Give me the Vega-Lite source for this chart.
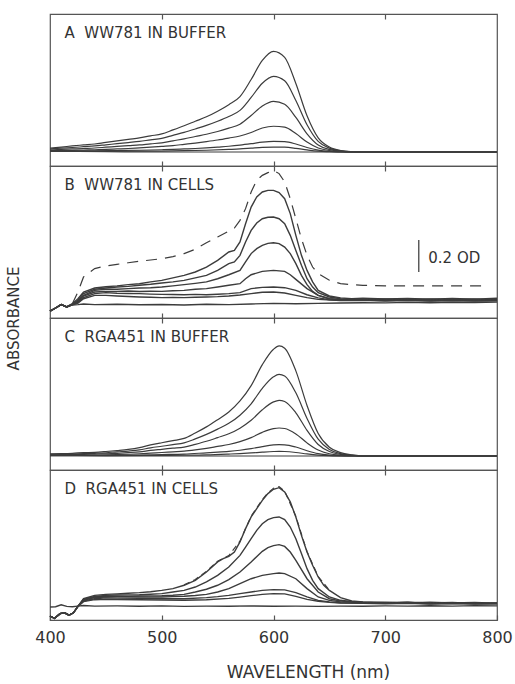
{
"$schema": "https://vega.github.io/schema/vega-lite/v6.json",
"background": "white",
"padding": {"left": 5, "top": 12, "right": 3, "bottom": 0},
"spacing": 0,
"bounds": "flush",
"config": {
 "view": {"stroke": "#555", "strokeWidth": 1.2},
 "font": "DejaVu Sans",
 "axis": {"domain": false, "grid": false, "tickColor": "#555", "tickWidth": 1.2, "labelFont": "DejaVu Sans", "titleFont": "DejaVu Sans", "labelColor": "#333", "titleColor": "#333", "titleFontWeight": "normal"}
},
"datasets": {
"A": [
{"s":1,"w":400,"a":0.025},{"s":1,"w":410,"a":0.031},{"s":1,"w":420,"a":0.038},{"s":1,"w":430,"a":0.044},{"s":1,"w":440,"a":0.05},{"s":1,"w":450,"a":0.06},{"s":1,"w":460,"a":0.069},{"s":1,"w":470,"a":0.079},{"s":1,"w":480,"a":0.088},{"s":1,"w":490,"a":0.101},{"s":1,"w":500,"a":0.113},{"s":1,"w":510,"a":0.138},{"s":1,"w":520,"a":0.164},{"s":1,"w":530,"a":0.192},{"s":1,"w":540,"a":0.22},{"s":1,"w":550,"a":0.255},{"s":1,"w":560,"a":0.296},{"s":1,"w":570,"a":0.346},{"s":1,"w":580,"a":0.453},{"s":1,"w":590,"a":0.572},{"s":1,"w":600,"a":0.629},{"s":1,"w":610,"a":0.591},{"s":1,"w":620,"a":0.428},{"s":1,"w":630,"a":0.226},{"s":1,"w":640,"a":0.088},{"s":1,"w":650,"a":0.031},{"s":1,"w":660,"a":0.009},{"s":1,"w":670,"a":0.002},{"s":1,"w":680,"a":0},{"s":1,"w":700,"a":0},{"s":1,"w":750,"a":0},{"s":1,"w":800,"a":0},
{"s":2,"w":400,"a":0.019},{"s":2,"w":410,"a":0.024},{"s":2,"w":420,"a":0.028},{"s":2,"w":430,"a":0.033},{"s":2,"w":440,"a":0.038},{"s":2,"w":450,"a":0.045},{"s":2,"w":460,"a":0.052},{"s":2,"w":470,"a":0.059},{"s":2,"w":480,"a":0.066},{"s":2,"w":490,"a":0.076},{"s":2,"w":500,"a":0.085},{"s":2,"w":510,"a":0.104},{"s":2,"w":520,"a":0.123},{"s":2,"w":530,"a":0.144},{"s":2,"w":540,"a":0.166},{"s":2,"w":550,"a":0.192},{"s":2,"w":560,"a":0.222},{"s":2,"w":570,"a":0.26},{"s":2,"w":580,"a":0.341},{"s":2,"w":590,"a":0.43},{"s":2,"w":600,"a":0.473},{"s":2,"w":610,"a":0.445},{"s":2,"w":620,"a":0.322},{"s":2,"w":630,"a":0.17},{"s":2,"w":640,"a":0.066},{"s":2,"w":650,"a":0.024},{"s":2,"w":660,"a":0.007},{"s":2,"w":670,"a":0.001},{"s":2,"w":680,"a":0},{"s":2,"w":700,"a":0},{"s":2,"w":750,"a":0},{"s":2,"w":800,"a":0},
{"s":3,"w":400,"a":0.013},{"s":3,"w":410,"a":0.016},{"s":3,"w":420,"a":0.019},{"s":3,"w":430,"a":0.022},{"s":3,"w":440,"a":0.025},{"s":3,"w":450,"a":0.03},{"s":3,"w":460,"a":0.035},{"s":3,"w":470,"a":0.04},{"s":3,"w":480,"a":0.044},{"s":3,"w":490,"a":0.051},{"s":3,"w":500,"a":0.057},{"s":3,"w":510,"a":0.07},{"s":3,"w":520,"a":0.082},{"s":3,"w":530,"a":0.097},{"s":3,"w":540,"a":0.111},{"s":3,"w":550,"a":0.128},{"s":3,"w":560,"a":0.149},{"s":3,"w":570,"a":0.174},{"s":3,"w":580,"a":0.228},{"s":3,"w":590,"a":0.288},{"s":3,"w":600,"a":0.317},{"s":3,"w":610,"a":0.298},{"s":3,"w":620,"a":0.216},{"s":3,"w":630,"a":0.114},{"s":3,"w":640,"a":0.044},{"s":3,"w":650,"a":0.016},{"s":3,"w":660,"a":0.005},{"s":3,"w":670,"a":0.001},{"s":3,"w":680,"a":0},{"s":3,"w":700,"a":0},{"s":3,"w":750,"a":0},{"s":3,"w":800,"a":0},
{"s":4,"w":400,"a":0.008},{"s":4,"w":410,"a":0.009},{"s":4,"w":420,"a":0.01},{"s":4,"w":430,"a":0.012},{"s":4,"w":440,"a":0.014},{"s":4,"w":450,"a":0.016},{"s":4,"w":460,"a":0.019},{"s":4,"w":470,"a":0.022},{"s":4,"w":480,"a":0.026},{"s":4,"w":490,"a":0.03},{"s":4,"w":500,"a":0.035},{"s":4,"w":510,"a":0.04},{"s":4,"w":520,"a":0.048},{"s":4,"w":530,"a":0.056},{"s":4,"w":540,"a":0.065},{"s":4,"w":550,"a":0.075},{"s":4,"w":560,"a":0.087},{"s":4,"w":570,"a":0.1},{"s":4,"w":580,"a":0.122},{"s":4,"w":590,"a":0.15},{"s":4,"w":600,"a":0.161},{"s":4,"w":610,"a":0.155},{"s":4,"w":620,"a":0.115},{"s":4,"w":630,"a":0.062},{"s":4,"w":640,"a":0.025},{"s":4,"w":650,"a":0.009},{"s":4,"w":660,"a":0.003},{"s":4,"w":670,"a":0},{"s":4,"w":700,"a":0},{"s":4,"w":750,"a":0},{"s":4,"w":800,"a":0},
{"s":5,"w":400,"a":0.006},{"s":5,"w":420,"a":0.006},{"s":5,"w":440,"a":0.007},{"s":5,"w":460,"a":0.009},{"s":5,"w":480,"a":0.011},{"s":5,"w":500,"a":0.014},{"s":5,"w":510,"a":0.016},{"s":5,"w":520,"a":0.019},{"s":5,"w":530,"a":0.022},{"s":5,"w":540,"a":0.026},{"s":5,"w":550,"a":0.031},{"s":5,"w":560,"a":0.036},{"s":5,"w":570,"a":0.043},{"s":5,"w":580,"a":0.052},{"s":5,"w":590,"a":0.062},{"s":5,"w":600,"a":0.067},{"s":5,"w":610,"a":0.065},{"s":5,"w":620,"a":0.05},{"s":5,"w":630,"a":0.028},{"s":5,"w":640,"a":0.012},{"s":5,"w":650,"a":0.004},{"s":5,"w":660,"a":0.001},{"s":5,"w":670,"a":0},{"s":5,"w":700,"a":0},{"s":5,"w":800,"a":0},
{"s":6,"w":400,"a":0.006},{"s":6,"w":440,"a":0.005},{"s":6,"w":480,"a":0.005},{"s":6,"w":500,"a":0.006},{"s":6,"w":520,"a":0.008},{"s":6,"w":540,"a":0.011},{"s":6,"w":560,"a":0.016},{"s":6,"w":570,"a":0.019},{"s":6,"w":580,"a":0.024},{"s":6,"w":590,"a":0.029},{"s":6,"w":600,"a":0.031},{"s":6,"w":610,"a":0.03},{"s":6,"w":620,"a":0.023},{"s":6,"w":630,"a":0.013},{"s":6,"w":640,"a":0.005},{"s":6,"w":650,"a":0.002},{"s":6,"w":660,"a":0},{"s":6,"w":700,"a":0},{"s":6,"w":800,"a":0},
{"s":7,"w":400,"a":0.004},{"s":7,"w":450,"a":0.002},{"s":7,"w":500,"a":0},{"s":7,"w":600,"a":0},{"s":7,"w":700,"a":0},{"s":7,"w":800,"a":0}
],
"B": [
{"s":1,"w":400,"a":-0.045},{"s":1,"w":405,"a":-0.025},{"s":1,"w":410,"a":-0.004},{"s":1,"w":415,"a":-0.018},{"s":1,"w":420,"a":0.002},{"s":1,"w":425,"a":0.033},{"s":1,"w":430,"a":0.075},{"s":1,"w":440,"a":0.1},{"s":1,"w":450,"a":0.108},{"s":1,"w":460,"a":0.113},{"s":1,"w":470,"a":0.121},{"s":1,"w":480,"a":0.127},{"s":1,"w":490,"a":0.138},{"s":1,"w":500,"a":0.148},{"s":1,"w":510,"a":0.163},{"s":1,"w":520,"a":0.179},{"s":1,"w":530,"a":0.2},{"s":1,"w":540,"a":0.231},{"s":1,"w":550,"a":0.273},{"s":1,"w":560,"a":0.325},{"s":1,"w":565,"a":0.335},{"s":1,"w":570,"a":0.388},{"s":1,"w":575,"a":0.502},{"s":1,"w":580,"a":0.606},{"s":1,"w":585,"a":0.669},{"s":1,"w":590,"a":0.7},{"s":1,"w":595,"a":0.71},{"s":1,"w":600,"a":0.71},{"s":1,"w":605,"a":0.696},{"s":1,"w":610,"a":0.658},{"s":1,"w":615,"a":0.565},{"s":1,"w":620,"a":0.429},{"s":1,"w":625,"a":0.304},{"s":1,"w":630,"a":0.21},{"s":1,"w":635,"a":0.138},{"s":1,"w":640,"a":0.085},{"s":1,"w":650,"a":0.05},{"s":1,"w":660,"a":0.038},{"s":1,"w":670,"a":0.033},{"s":1,"w":680,"a":0.036},{"s":1,"w":700,"a":0.031},{"s":1,"w":720,"a":0.035},{"s":1,"w":740,"a":0.03},{"s":1,"w":760,"a":0.034},{"s":1,"w":780,"a":0.03},{"s":1,"w":800,"a":0.036},
{"s":2,"w":400,"a":-0.045},{"s":2,"w":405,"a":-0.025},{"s":2,"w":410,"a":-0.004},{"s":2,"w":415,"a":-0.018},{"s":2,"w":420,"a":0.0},{"s":2,"w":425,"a":0.023},{"s":2,"w":430,"a":0.065},{"s":2,"w":440,"a":0.092},{"s":2,"w":450,"a":0.1},{"s":2,"w":460,"a":0.106},{"s":2,"w":470,"a":0.11},{"s":2,"w":480,"a":0.117},{"s":2,"w":490,"a":0.123},{"s":2,"w":500,"a":0.131},{"s":2,"w":510,"a":0.138},{"s":2,"w":520,"a":0.148},{"s":2,"w":530,"a":0.163},{"s":2,"w":540,"a":0.179},{"s":2,"w":550,"a":0.21},{"s":2,"w":560,"a":0.252},{"s":2,"w":565,"a":0.263},{"s":2,"w":570,"a":0.304},{"s":2,"w":575,"a":0.388},{"s":2,"w":580,"a":0.46},{"s":2,"w":585,"a":0.506},{"s":2,"w":590,"a":0.533},{"s":2,"w":595,"a":0.542},{"s":2,"w":600,"a":0.544},{"s":2,"w":605,"a":0.533},{"s":2,"w":610,"a":0.502},{"s":2,"w":615,"a":0.429},{"s":2,"w":620,"a":0.335},{"s":2,"w":625,"a":0.242},{"s":2,"w":630,"a":0.158},{"s":2,"w":635,"a":0.106},{"s":2,"w":640,"a":0.071},{"s":2,"w":650,"a":0.044},{"s":2,"w":660,"a":0.033},{"s":2,"w":670,"a":0.03},{"s":2,"w":680,"a":0.027},{"s":2,"w":700,"a":0.031},{"s":2,"w":720,"a":0.027},{"s":2,"w":740,"a":0.032},{"s":2,"w":760,"a":0.028},{"s":2,"w":780,"a":0.031},{"s":2,"w":800,"a":0.026},
{"s":3,"w":400,"a":-0.045},{"s":3,"w":405,"a":-0.025},{"s":3,"w":410,"a":-0.004},{"s":3,"w":415,"a":-0.018},{"s":3,"w":420,"a":-0.002},{"s":3,"w":425,"a":0.017},{"s":3,"w":430,"a":0.054},{"s":3,"w":440,"a":0.085},{"s":3,"w":450,"a":0.092},{"s":3,"w":460,"a":0.092},{"s":3,"w":470,"a":0.096},{"s":3,"w":480,"a":0.1},{"s":3,"w":490,"a":0.102},{"s":3,"w":500,"a":0.106},{"s":3,"w":510,"a":0.113},{"s":3,"w":520,"a":0.121},{"s":3,"w":530,"a":0.129},{"s":3,"w":540,"a":0.138},{"s":3,"w":550,"a":0.158},{"s":3,"w":560,"a":0.183},{"s":3,"w":570,"a":0.21},{"s":3,"w":575,"a":0.263},{"s":3,"w":580,"a":0.315},{"s":3,"w":585,"a":0.346},{"s":3,"w":590,"a":0.367},{"s":3,"w":595,"a":0.379},{"s":3,"w":600,"a":0.383},{"s":3,"w":605,"a":0.377},{"s":3,"w":610,"a":0.356},{"s":3,"w":615,"a":0.315},{"s":3,"w":620,"a":0.252},{"s":3,"w":625,"a":0.179},{"s":3,"w":630,"a":0.121},{"s":3,"w":635,"a":0.079},{"s":3,"w":640,"a":0.054},{"s":3,"w":650,"a":0.033},{"s":3,"w":660,"a":0.027},{"s":3,"w":680,"a":0.029},{"s":3,"w":700,"a":0.025},{"s":3,"w":720,"a":0.03},{"s":3,"w":740,"a":0.026},{"s":3,"w":760,"a":0.029},{"s":3,"w":780,"a":0.024},{"s":3,"w":800,"a":0.028},
{"s":4,"w":400,"a":-0.045},{"s":4,"w":405,"a":-0.025},{"s":4,"w":410,"a":-0.004},{"s":4,"w":415,"a":-0.018},{"s":4,"w":420,"a":-0.003},{"s":4,"w":425,"a":0.013},{"s":4,"w":430,"a":0.05},{"s":4,"w":440,"a":0.075},{"s":4,"w":450,"a":0.079},{"s":4,"w":460,"a":0.079},{"s":4,"w":470,"a":0.081},{"s":4,"w":480,"a":0.078},{"s":4,"w":490,"a":0.08},{"s":4,"w":500,"a":0.079},{"s":4,"w":510,"a":0.083},{"s":4,"w":520,"a":0.085},{"s":4,"w":530,"a":0.092},{"s":4,"w":540,"a":0.096},{"s":4,"w":550,"a":0.106},{"s":4,"w":560,"a":0.117},{"s":4,"w":570,"a":0.127},{"s":4,"w":575,"a":0.158},{"s":4,"w":580,"a":0.183},{"s":4,"w":590,"a":0.204},{"s":4,"w":600,"a":0.21},{"s":4,"w":610,"a":0.204},{"s":4,"w":615,"a":0.183},{"s":4,"w":620,"a":0.154},{"s":4,"w":630,"a":0.096},{"s":4,"w":640,"a":0.054},{"s":4,"w":650,"a":0.033},{"s":4,"w":660,"a":0.025},{"s":4,"w":680,"a":0.027},{"s":4,"w":700,"a":0.023},{"s":4,"w":720,"a":0.027},{"s":4,"w":740,"a":0.022},{"s":4,"w":760,"a":0.026},{"s":4,"w":780,"a":0.023},{"s":4,"w":800,"a":0.025},
{"s":5,"w":400,"a":-0.045},{"s":5,"w":405,"a":-0.025},{"s":5,"w":410,"a":-0.004},{"s":5,"w":415,"a":-0.018},{"s":5,"w":420,"a":-0.004},{"s":5,"w":425,"a":0.008},{"s":5,"w":430,"a":0.04},{"s":5,"w":440,"a":0.065},{"s":5,"w":450,"a":0.071},{"s":5,"w":460,"a":0.067},{"s":5,"w":470,"a":0.066},{"s":5,"w":480,"a":0.065},{"s":5,"w":490,"a":0.062},{"s":5,"w":500,"a":0.06},{"s":5,"w":510,"a":0.059},{"s":5,"w":520,"a":0.058},{"s":5,"w":530,"a":0.06},{"s":5,"w":540,"a":0.058},{"s":5,"w":550,"a":0.061},{"s":5,"w":560,"a":0.065},{"s":5,"w":570,"a":0.071},{"s":5,"w":580,"a":0.096},{"s":5,"w":590,"a":0.104},{"s":5,"w":600,"a":0.106},{"s":5,"w":610,"a":0.102},{"s":5,"w":620,"a":0.085},{"s":5,"w":630,"a":0.058},{"s":5,"w":640,"a":0.038},{"s":5,"w":650,"a":0.027},{"s":5,"w":660,"a":0.023},{"s":5,"w":680,"a":0.025},{"s":5,"w":700,"a":0.021},{"s":5,"w":720,"a":0.024},{"s":5,"w":740,"a":0.02},{"s":5,"w":760,"a":0.023},{"s":5,"w":780,"a":0.02},{"s":5,"w":800,"a":0.022},
{"s":6,"w":400,"a":-0.045},{"s":6,"w":405,"a":-0.025},{"s":6,"w":410,"a":-0.004},{"s":6,"w":415,"a":-0.018},{"s":6,"w":420,"a":-0.005},{"s":6,"w":425,"a":0.006},{"s":6,"w":430,"a":0.033},{"s":6,"w":440,"a":0.054},{"s":6,"w":450,"a":0.054},{"s":6,"w":460,"a":0.05},{"s":6,"w":470,"a":0.047},{"s":6,"w":480,"a":0.044},{"s":6,"w":490,"a":0.042},{"s":6,"w":500,"a":0.04},{"s":6,"w":510,"a":0.041},{"s":6,"w":520,"a":0.04},{"s":6,"w":530,"a":0.042},{"s":6,"w":540,"a":0.044},{"s":6,"w":550,"a":0.046},{"s":6,"w":560,"a":0.05},{"s":6,"w":570,"a":0.056},{"s":6,"w":580,"a":0.065},{"s":6,"w":590,"a":0.073},{"s":6,"w":600,"a":0.075},{"s":6,"w":610,"a":0.069},{"s":6,"w":620,"a":0.054},{"s":6,"w":630,"a":0.04},{"s":6,"w":640,"a":0.029},{"s":6,"w":660,"a":0.021},{"s":6,"w":680,"a":0.023},{"s":6,"w":700,"a":0.019},{"s":6,"w":720,"a":0.022},{"s":6,"w":740,"a":0.018},{"s":6,"w":760,"a":0.021},{"s":6,"w":780,"a":0.019},{"s":6,"w":800,"a":0.02},
{"s":7,"w":400,"a":-0.045},{"s":7,"w":405,"a":-0.025},{"s":7,"w":410,"a":-0.004},{"s":7,"w":415,"a":-0.018},{"s":7,"w":420,"a":-0.006},{"s":7,"w":425,"a":-0.004},{"s":7,"w":430,"a":0.0},{"s":7,"w":440,"a":-0.004},{"s":7,"w":460,"a":-0.002},{"s":7,"w":480,"a":-0.005},{"s":7,"w":500,"a":-0.003},{"s":7,"w":520,"a":-0.006},{"s":7,"w":540,"a":-0.002},{"s":7,"w":560,"a":-0.004},{"s":7,"w":580,"a":0.0},{"s":7,"w":600,"a":0.004},{"s":7,"w":620,"a":0.002},{"s":7,"w":640,"a":0.004},{"s":7,"w":660,"a":0.006},{"s":7,"w":680,"a":0.008},{"s":7,"w":700,"a":0.007},{"s":7,"w":720,"a":0.01},{"s":7,"w":740,"a":0.008},{"s":7,"w":760,"a":0.011},{"s":7,"w":780,"a":0.009},{"s":7,"w":800,"a":0.012},
{"s":9,"w":420,"a":0.002},{"s":9,"w":425,"a":0.075},{"s":9,"w":430,"a":0.169},{"s":9,"w":440,"a":0.221},{"s":9,"w":450,"a":0.238},{"s":9,"w":460,"a":0.248},{"s":9,"w":470,"a":0.258},{"s":9,"w":480,"a":0.267},{"s":9,"w":490,"a":0.275},{"s":9,"w":500,"a":0.283},{"s":9,"w":510,"a":0.296},{"s":9,"w":520,"a":0.315},{"s":9,"w":530,"a":0.342},{"s":9,"w":540,"a":0.383},{"s":9,"w":550,"a":0.419},{"s":9,"w":560,"a":0.456},{"s":9,"w":565,"a":0.475},{"s":9,"w":570,"a":0.523},{"s":9,"w":575,"a":0.596},{"s":9,"w":580,"a":0.7},{"s":9,"w":585,"a":0.773},{"s":9,"w":590,"a":0.804},{"s":9,"w":595,"a":0.821},{"s":9,"w":600,"a":0.835},{"s":9,"w":605,"a":0.815},{"s":9,"w":610,"a":0.763},{"s":9,"w":615,"a":0.658},{"s":9,"w":620,"a":0.533},{"s":9,"w":625,"a":0.408},{"s":9,"w":630,"a":0.304},{"s":9,"w":635,"a":0.231},{"s":9,"w":640,"a":0.19},{"s":9,"w":650,"a":0.148},{"s":9,"w":660,"a":0.127},{"s":9,"w":670,"a":0.121},{"s":9,"w":680,"a":0.117},{"s":9,"w":700,"a":0.113},{"s":9,"w":750,"a":0.113},{"s":9,"w":790,"a":0.113}
],
"C": [
{"s":1,"w":400,"a":0.014},{"s":1,"w":410,"a":0.015},{"s":1,"w":420,"a":0.017},{"s":1,"w":430,"a":0.021},{"s":1,"w":440,"a":0.023},{"s":1,"w":450,"a":0.028},{"s":1,"w":460,"a":0.034},{"s":1,"w":470,"a":0.041},{"s":1,"w":480,"a":0.052},{"s":1,"w":490,"a":0.069},{"s":1,"w":500,"a":0.083},{"s":1,"w":510,"a":0.096},{"s":1,"w":520,"a":0.11},{"s":1,"w":530,"a":0.144},{"s":1,"w":540,"a":0.182},{"s":1,"w":550,"a":0.227},{"s":1,"w":560,"a":0.275},{"s":1,"w":570,"a":0.344},{"s":1,"w":580,"a":0.44},{"s":1,"w":590,"a":0.571},{"s":1,"w":600,"a":0.667},{"s":1,"w":605,"a":0.688},{"s":1,"w":610,"a":0.674},{"s":1,"w":620,"a":0.532},{"s":1,"w":630,"a":0.316},{"s":1,"w":640,"a":0.141},{"s":1,"w":650,"a":0.055},{"s":1,"w":660,"a":0.021},{"s":1,"w":670,"a":0.007},{"s":1,"w":680,"a":0},{"s":1,"w":700,"a":0},{"s":1,"w":750,"a":0},{"s":1,"w":800,"a":0},
{"s":2,"w":400,"a":0.01},{"s":2,"w":410,"a":0.011},{"s":2,"w":420,"a":0.013},{"s":2,"w":430,"a":0.015},{"s":2,"w":440,"a":0.017},{"s":2,"w":450,"a":0.02},{"s":2,"w":460,"a":0.026},{"s":2,"w":470,"a":0.031},{"s":2,"w":480,"a":0.038},{"s":2,"w":490,"a":0.051},{"s":2,"w":500,"a":0.061},{"s":2,"w":510,"a":0.071},{"s":2,"w":520,"a":0.082},{"s":2,"w":530,"a":0.107},{"s":2,"w":540,"a":0.135},{"s":2,"w":550,"a":0.168},{"s":2,"w":560,"a":0.204},{"s":2,"w":570,"a":0.255},{"s":2,"w":580,"a":0.326},{"s":2,"w":590,"a":0.423},{"s":2,"w":600,"a":0.495},{"s":2,"w":605,"a":0.51},{"s":2,"w":610,"a":0.5},{"s":2,"w":620,"a":0.395},{"s":2,"w":630,"a":0.235},{"s":2,"w":640,"a":0.105},{"s":2,"w":650,"a":0.041},{"s":2,"w":660,"a":0.015},{"s":2,"w":670,"a":0.005},{"s":2,"w":680,"a":0},{"s":2,"w":700,"a":0},{"s":2,"w":750,"a":0},{"s":2,"w":800,"a":0},
{"s":3,"w":400,"a":0.007},{"s":3,"w":410,"a":0.008},{"s":3,"w":420,"a":0.009},{"s":3,"w":430,"a":0.01},{"s":3,"w":440,"a":0.012},{"s":3,"w":450,"a":0.014},{"s":3,"w":460,"a":0.017},{"s":3,"w":470,"a":0.021},{"s":3,"w":480,"a":0.026},{"s":3,"w":490,"a":0.035},{"s":3,"w":500,"a":0.042},{"s":3,"w":510,"a":0.049},{"s":3,"w":520,"a":0.056},{"s":3,"w":530,"a":0.073},{"s":3,"w":540,"a":0.092},{"s":3,"w":550,"a":0.115},{"s":3,"w":560,"a":0.139},{"s":3,"w":570,"a":0.174},{"s":3,"w":580,"a":0.223},{"s":3,"w":590,"a":0.289},{"s":3,"w":600,"a":0.338},{"s":3,"w":605,"a":0.348},{"s":3,"w":610,"a":0.341},{"s":3,"w":620,"a":0.27},{"s":3,"w":630,"a":0.16},{"s":3,"w":640,"a":0.072},{"s":3,"w":650,"a":0.028},{"s":3,"w":660,"a":0.01},{"s":3,"w":670,"a":0.003},{"s":3,"w":680,"a":0},{"s":3,"w":700,"a":0},{"s":3,"w":750,"a":0},{"s":3,"w":800,"a":0},
{"s":4,"w":400,"a":0.004},{"s":4,"w":420,"a":0.005},{"s":4,"w":440,"a":0.006},{"s":4,"w":460,"a":0.009},{"s":4,"w":470,"a":0.011},{"s":4,"w":480,"a":0.014},{"s":4,"w":490,"a":0.018},{"s":4,"w":500,"a":0.022},{"s":4,"w":510,"a":0.026},{"s":4,"w":520,"a":0.03},{"s":4,"w":530,"a":0.038},{"s":4,"w":540,"a":0.048},{"s":4,"w":550,"a":0.06},{"s":4,"w":560,"a":0.072},{"s":4,"w":570,"a":0.09},{"s":4,"w":580,"a":0.115},{"s":4,"w":590,"a":0.148},{"s":4,"w":600,"a":0.171},{"s":4,"w":605,"a":0.175},{"s":4,"w":610,"a":0.172},{"s":4,"w":620,"a":0.138},{"s":4,"w":630,"a":0.082},{"s":4,"w":640,"a":0.037},{"s":4,"w":650,"a":0.014},{"s":4,"w":660,"a":0.005},{"s":4,"w":670,"a":0.002},{"s":4,"w":680,"a":0},{"s":4,"w":700,"a":0},{"s":4,"w":800,"a":0},
{"s":5,"w":400,"a":0.003},{"s":5,"w":440,"a":0.003},{"s":5,"w":460,"a":0.004},{"s":5,"w":480,"a":0.006},{"s":5,"w":500,"a":0.009},{"s":5,"w":520,"a":0.012},{"s":5,"w":540,"a":0.02},{"s":5,"w":550,"a":0.024},{"s":5,"w":560,"a":0.029},{"s":5,"w":570,"a":0.036},{"s":5,"w":580,"a":0.046},{"s":5,"w":590,"a":0.059},{"s":5,"w":600,"a":0.069},{"s":5,"w":605,"a":0.071},{"s":5,"w":610,"a":0.07},{"s":5,"w":620,"a":0.056},{"s":5,"w":630,"a":0.033},{"s":5,"w":640,"a":0.015},{"s":5,"w":650,"a":0.006},{"s":5,"w":660,"a":0.002},{"s":5,"w":670,"a":0},{"s":5,"w":700,"a":0},{"s":5,"w":800,"a":0},
{"s":6,"w":400,"a":0.002},{"s":6,"w":450,"a":0.002},{"s":6,"w":500,"a":0.004},{"s":6,"w":520,"a":0.005},{"s":6,"w":540,"a":0.007},{"s":6,"w":560,"a":0.012},{"s":6,"w":570,"a":0.015},{"s":6,"w":580,"a":0.019},{"s":6,"w":590,"a":0.024},{"s":6,"w":600,"a":0.028},{"s":6,"w":605,"a":0.029},{"s":6,"w":610,"a":0.028},{"s":6,"w":620,"a":0.022},{"s":6,"w":630,"a":0.013},{"s":6,"w":640,"a":0.006},{"s":6,"w":650,"a":0.002},{"s":6,"w":660,"a":0},{"s":6,"w":700,"a":0},{"s":6,"w":800,"a":0},
{"s":7,"w":400,"a":0.002},{"s":7,"w":450,"a":0.001},{"s":7,"w":500,"a":0},{"s":7,"w":600,"a":0},{"s":7,"w":700,"a":0},{"s":7,"w":800,"a":0}
],
"D": [
{"s":1,"w":400,"a":-0.05},{"s":1,"w":404,"a":-0.065},{"s":1,"w":409,"a":-0.035},{"s":1,"w":413,"a":-0.03},{"s":1,"w":417,"a":-0.045},{"s":1,"w":421,"a":-0.03},{"s":1,"w":425,"a":0.01},{"s":1,"w":430,"a":0.058},{"s":1,"w":440,"a":0.079},{"s":1,"w":450,"a":0.085},{"s":1,"w":460,"a":0.088},{"s":1,"w":470,"a":0.092},{"s":1,"w":480,"a":0.096},{"s":1,"w":490,"a":0.102},{"s":1,"w":500,"a":0.11},{"s":1,"w":510,"a":0.121},{"s":1,"w":520,"a":0.142},{"s":1,"w":530,"a":0.173},{"s":1,"w":540,"a":0.225},{"s":1,"w":550,"a":0.288},{"s":1,"w":555,"a":0.308},{"s":1,"w":560,"a":0.323},{"s":1,"w":565,"a":0.35},{"s":1,"w":570,"a":0.413},{"s":1,"w":575,"a":0.496},{"s":1,"w":580,"a":0.569},{"s":1,"w":585,"a":0.621},{"s":1,"w":590,"a":0.673},{"s":1,"w":595,"a":0.715},{"s":1,"w":600,"a":0.742},{"s":1,"w":605,"a":0.752},{"s":1,"w":610,"a":0.725},{"s":1,"w":615,"a":0.663},{"s":1,"w":620,"a":0.569},{"s":1,"w":625,"a":0.454},{"s":1,"w":630,"a":0.35},{"s":1,"w":635,"a":0.267},{"s":1,"w":640,"a":0.194},{"s":1,"w":645,"a":0.142},{"s":1,"w":650,"a":0.11},{"s":1,"w":660,"a":0.065},{"s":1,"w":670,"a":0.044},{"s":1,"w":680,"a":0.038},{"s":1,"w":700,"a":0.033},{"s":1,"w":720,"a":0.036},{"s":1,"w":740,"a":0.031},{"s":1,"w":760,"a":0.034},{"s":1,"w":780,"a":0.029},{"s":1,"w":800,"a":0.027},
{"s":2,"w":400,"a":-0.05},{"s":2,"w":404,"a":-0.065},{"s":2,"w":409,"a":-0.035},{"s":2,"w":413,"a":-0.03},{"s":2,"w":417,"a":-0.045},{"s":2,"w":421,"a":-0.03},{"s":2,"w":425,"a":0.01},{"s":2,"w":430,"a":0.054},{"s":2,"w":440,"a":0.073},{"s":2,"w":450,"a":0.079},{"s":2,"w":460,"a":0.081},{"s":2,"w":470,"a":0.082},{"s":2,"w":480,"a":0.083},{"s":2,"w":490,"a":0.086},{"s":2,"w":500,"a":0.09},{"s":2,"w":510,"a":0.1},{"s":2,"w":520,"a":0.11},{"s":2,"w":530,"a":0.131},{"s":2,"w":540,"a":0.163},{"s":2,"w":550,"a":0.204},{"s":2,"w":560,"a":0.256},{"s":2,"w":570,"a":0.329},{"s":2,"w":575,"a":0.381},{"s":2,"w":580,"a":0.433},{"s":2,"w":585,"a":0.485},{"s":2,"w":590,"a":0.527},{"s":2,"w":595,"a":0.552},{"s":2,"w":600,"a":0.565},{"s":2,"w":605,"a":0.569},{"s":2,"w":610,"a":0.552},{"s":2,"w":615,"a":0.506},{"s":2,"w":620,"a":0.433},{"s":2,"w":625,"a":0.34},{"s":2,"w":630,"a":0.246},{"s":2,"w":635,"a":0.173},{"s":2,"w":640,"a":0.121},{"s":2,"w":650,"a":0.069},{"s":2,"w":660,"a":0.048},{"s":2,"w":670,"a":0.04},{"s":2,"w":680,"a":0.035},{"s":2,"w":700,"a":0.037},{"s":2,"w":720,"a":0.032},{"s":2,"w":740,"a":0.036},{"s":2,"w":760,"a":0.031},{"s":2,"w":780,"a":0.034},{"s":2,"w":800,"a":0.03},
{"s":3,"w":400,"a":-0.05},{"s":3,"w":404,"a":-0.065},{"s":3,"w":409,"a":-0.035},{"s":3,"w":413,"a":-0.03},{"s":3,"w":417,"a":-0.045},{"s":3,"w":421,"a":-0.03},{"s":3,"w":425,"a":0.01},{"s":3,"w":430,"a":0.052},{"s":3,"w":440,"a":0.069},{"s":3,"w":450,"a":0.073},{"s":3,"w":460,"a":0.074},{"s":3,"w":470,"a":0.073},{"s":3,"w":480,"a":0.075},{"s":3,"w":490,"a":0.076},{"s":3,"w":500,"a":0.077},{"s":3,"w":510,"a":0.08},{"s":3,"w":520,"a":0.085},{"s":3,"w":530,"a":0.1},{"s":3,"w":540,"a":0.117},{"s":3,"w":550,"a":0.142},{"s":3,"w":560,"a":0.177},{"s":3,"w":570,"a":0.225},{"s":3,"w":580,"a":0.288},{"s":3,"w":590,"a":0.354},{"s":3,"w":595,"a":0.377},{"s":3,"w":600,"a":0.39},{"s":3,"w":605,"a":0.396},{"s":3,"w":610,"a":0.385},{"s":3,"w":615,"a":0.35},{"s":3,"w":620,"a":0.298},{"s":3,"w":630,"a":0.183},{"s":3,"w":640,"a":0.1},{"s":3,"w":650,"a":0.058},{"s":3,"w":660,"a":0.044},{"s":3,"w":680,"a":0.035},{"s":3,"w":700,"a":0.032},{"s":3,"w":720,"a":0.035},{"s":3,"w":740,"a":0.03},{"s":3,"w":760,"a":0.033},{"s":3,"w":780,"a":0.029},{"s":3,"w":800,"a":0.031},
{"s":4,"w":400,"a":-0.05},{"s":4,"w":404,"a":-0.065},{"s":4,"w":409,"a":-0.035},{"s":4,"w":413,"a":-0.03},{"s":4,"w":417,"a":-0.045},{"s":4,"w":421,"a":-0.03},{"s":4,"w":425,"a":0.01},{"s":4,"w":430,"a":0.048},{"s":4,"w":440,"a":0.065},{"s":4,"w":450,"a":0.069},{"s":4,"w":460,"a":0.07},{"s":4,"w":480,"a":0.069},{"s":4,"w":500,"a":0.069},{"s":4,"w":510,"a":0.071},{"s":4,"w":520,"a":0.073},{"s":4,"w":530,"a":0.078},{"s":4,"w":540,"a":0.085},{"s":4,"w":550,"a":0.1},{"s":4,"w":560,"a":0.121},{"s":4,"w":570,"a":0.152},{"s":4,"w":580,"a":0.183},{"s":4,"w":590,"a":0.204},{"s":4,"w":600,"a":0.215},{"s":4,"w":605,"a":0.219},{"s":4,"w":610,"a":0.215},{"s":4,"w":620,"a":0.183},{"s":4,"w":630,"a":0.121},{"s":4,"w":640,"a":0.069},{"s":4,"w":650,"a":0.048},{"s":4,"w":660,"a":0.038},{"s":4,"w":680,"a":0.034},{"s":4,"w":700,"a":0.031},{"s":4,"w":720,"a":0.034},{"s":4,"w":740,"a":0.029},{"s":4,"w":760,"a":0.032},{"s":4,"w":780,"a":0.028},{"s":4,"w":800,"a":0.03},
{"s":5,"w":400,"a":-0.05},{"s":5,"w":404,"a":-0.065},{"s":5,"w":409,"a":-0.035},{"s":5,"w":413,"a":-0.03},{"s":5,"w":417,"a":-0.045},{"s":5,"w":421,"a":-0.03},{"s":5,"w":425,"a":0.01},{"s":5,"w":430,"a":0.044},{"s":5,"w":440,"a":0.058},{"s":5,"w":450,"a":0.063},{"s":5,"w":460,"a":0.062},{"s":5,"w":480,"a":0.06},{"s":5,"w":500,"a":0.058},{"s":5,"w":520,"a":0.058},{"s":5,"w":540,"a":0.065},{"s":5,"w":550,"a":0.071},{"s":5,"w":560,"a":0.079},{"s":5,"w":570,"a":0.09},{"s":5,"w":580,"a":0.1},{"s":5,"w":590,"a":0.11},{"s":5,"w":600,"a":0.115},{"s":5,"w":610,"a":0.113},{"s":5,"w":620,"a":0.096},{"s":5,"w":630,"a":0.069},{"s":5,"w":640,"a":0.048},{"s":5,"w":650,"a":0.038},{"s":5,"w":660,"a":0.033},{"s":5,"w":680,"a":0.031},{"s":5,"w":700,"a":0.029},{"s":5,"w":720,"a":0.032},{"s":5,"w":740,"a":0.027},{"s":5,"w":760,"a":0.03},{"s":5,"w":780,"a":0.026},{"s":5,"w":800,"a":0.029},
{"s":6,"w":400,"a":-0.05},{"s":6,"w":404,"a":-0.065},{"s":6,"w":409,"a":-0.035},{"s":6,"w":413,"a":-0.03},{"s":6,"w":417,"a":-0.045},{"s":6,"w":421,"a":-0.03},{"s":6,"w":425,"a":0.01},{"s":6,"w":430,"a":0.04},{"s":6,"w":440,"a":0.052},{"s":6,"w":450,"a":0.054},{"s":6,"w":460,"a":0.053},{"s":6,"w":480,"a":0.052},{"s":6,"w":500,"a":0.05},{"s":6,"w":520,"a":0.048},{"s":6,"w":540,"a":0.052},{"s":6,"w":560,"a":0.06},{"s":6,"w":570,"a":0.068},{"s":6,"w":580,"a":0.077},{"s":6,"w":590,"a":0.085},{"s":6,"w":600,"a":0.09},{"s":6,"w":610,"a":0.088},{"s":6,"w":620,"a":0.073},{"s":6,"w":630,"a":0.054},{"s":6,"w":640,"a":0.042},{"s":6,"w":650,"a":0.035},{"s":6,"w":660,"a":0.031},{"s":6,"w":680,"a":0.029},{"s":6,"w":700,"a":0.027},{"s":6,"w":720,"a":0.03},{"s":6,"w":740,"a":0.025},{"s":6,"w":760,"a":0.028},{"s":6,"w":780,"a":0.024},{"s":6,"w":800,"a":0.026},
{"s":7,"w":400,"a":0.006},{"s":7,"w":405,"a":0.008},{"s":7,"w":410,"a":0.02},{"s":7,"w":415,"a":0.01},{"s":7,"w":420,"a":0.008},{"s":7,"w":425,"a":0.012},{"s":7,"w":430,"a":0.016},{"s":7,"w":440,"a":0.012},{"s":7,"w":460,"a":0.013},{"s":7,"w":480,"a":0.011},{"s":7,"w":500,"a":0.013},{"s":7,"w":520,"a":0.01},{"s":7,"w":540,"a":0.012},{"s":7,"w":560,"a":0.011},{"s":7,"w":580,"a":0.013},{"s":7,"w":600,"a":0.011},{"s":7,"w":620,"a":0.012},{"s":7,"w":640,"a":0.01},{"s":7,"w":660,"a":0.012},{"s":7,"w":680,"a":0.011},{"s":7,"w":700,"a":0.013},{"s":7,"w":720,"a":0.012},{"s":7,"w":740,"a":0.014},{"s":7,"w":760,"a":0.012},{"s":7,"w":780,"a":0.015},{"s":7,"w":800,"a":0.013},
{"s":9,"w":520,"a":0.146},{"s":9,"w":530,"a":0.178},{"s":9,"w":540,"a":0.23},{"s":9,"w":550,"a":0.293},{"s":9,"w":560,"a":0.328},{"s":9,"w":570,"a":0.418},{"s":9,"w":580,"a":0.574},{"s":9,"w":590,"a":0.678},{"s":9,"w":595,"a":0.72},{"s":9,"w":600,"a":0.748},{"s":9,"w":605,"a":0.758},{"s":9,"w":610,"a":0.73},{"s":9,"w":620,"a":0.573},{"s":9,"w":630,"a":0.353},{"s":9,"w":640,"a":0.197},{"s":9,"w":650,"a":0.112}
]
},
"vconcat": [
{
 "width": 447, "height": 152,
 "layer": [
  {"data": {"name": "A"},
   "mark": {"type": "line", "color": "#3c3c3c", "strokeWidth": 1.2, "interpolate": "monotone"},
   "encoding": {
    "x": {"field": "w", "type": "quantitative", "scale": {"domain": [400, 800], "nice": false, "zero": false},
          "axis": {"orient": "bottom", "values": [500, 600, 700], "tickSize": -5, "labels": false, "title": null}},
    "y": {"field": "a", "type": "quantitative", "scale": {"domain": [-0.0875, 0.8625], "nice": false, "zero": false}, "axis": null},
    "detail": {"field": "s"}
   }},
  {"data": {"values": [{}]},
   "mark": {"type": "text", "align": "left", "baseline": "alphabetic", "fontSize": 15, "font": "DejaVu Sans", "color": "#333"},
   "encoding": {
    "x": {"datum": 413, "type": "quantitative", "axis": {"orient": "top", "values": [500, 600, 700], "tickSize": -5, "labels": false, "title": null}},
    "y": {"datum": 0.7125, "type": "quantitative", "axis": null},
    "text": {"value": "A\u00a0 WW781 IN BUFFER"}
   }}
 ],
 "resolve": {"axis": {"x": "independent"}}
},
{
 "width": 447, "height": 152,
 "layer": [
  {"data": {"name": "B"},
   "transform": [{"filter": "datum.s < 9"}],
   "mark": {"type": "line", "color": "#3c3c3c", "strokeWidth": 1.4, "interpolate": "linear"},
   "encoding": {
    "x": {"field": "w", "type": "quantitative", "scale": {"domain": [400, 800], "nice": false, "zero": false},
          "axis": {"orient": "bottom", "values": [500, 600, 700], "tickSize": -5, "labels": false, "title": null}},
    "y": {"field": "a", "type": "quantitative", "scale": {"domain": [-0.0875, 0.8625], "nice": false, "zero": false},
          "axis": {"title": "ABSORBANCE", "labels": false, "ticks": false, "titlePadding": 29, "titleY": 152, "titleFontSize": 15}},
    "detail": {"field": "s"}
   }},
  {"data": {"name": "B"},
   "transform": [{"filter": "datum.s == 9"}],
   "mark": {"type": "line", "color": "#3c3c3c", "strokeWidth": 1.2, "strokeDash": [11, 8], "interpolate": "linear"},
   "encoding": {
    "x": {"field": "w", "type": "quantitative", "axis": null},
    "y": {"field": "a", "type": "quantitative", "axis": {"title": "ABSORBANCE", "labels": false, "ticks": false, "titlePadding": 29, "titleY": 152, "titleFontSize": 15}}
   }},
  {"data": {"values": [{}]},
   "mark": {"type": "text", "align": "left", "baseline": "alphabetic", "fontSize": 15, "font": "DejaVu Sans", "color": "#333"},
   "encoding": {
    "x": {"datum": 413, "type": "quantitative", "axis": {"orient": "top", "values": [500, 600, 700], "tickSize": -5, "labels": false, "title": null}},
    "y": {"datum": 0.7125, "type": "quantitative", "axis": {"title": "ABSORBANCE", "labels": false, "ticks": false, "titlePadding": 29, "titleY": 152, "titleFontSize": 15}},
    "text": {"value": "B\u00a0 WW781 IN CELLS"}
   }},
  {"data": {"values": [{}]},
   "mark": {"type": "rule", "color": "#444", "strokeWidth": 1.3},
   "encoding": {
    "x": {"datum": 730, "type": "quantitative", "axis": null},
    "y": {"datum": 0.2, "type": "quantitative", "axis": {"title": "ABSORBANCE", "labels": false, "ticks": false, "titlePadding": 29, "titleY": 152, "titleFontSize": 15}},
    "y2": {"datum": 0.4}
   }},
  {"data": {"values": [{}]},
   "mark": {"type": "text", "align": "left", "baseline": "middle", "fontSize": 15, "font": "DejaVu Sans", "color": "#333"},
   "encoding": {
    "x": {"datum": 738.5, "type": "quantitative", "axis": null},
    "y": {"datum": 0.29, "type": "quantitative", "axis": {"title": "ABSORBANCE", "labels": false, "ticks": false, "titlePadding": 29, "titleY": 152, "titleFontSize": 15}},
    "text": {"value": "0.2 OD"}
   }}
 ],
 "resolve": {"axis": {"x": "independent"}}
},
{
 "width": 447, "height": 152,
 "layer": [
  {"data": {"name": "C"},
   "mark": {"type": "line", "color": "#3c3c3c", "strokeWidth": 1.2, "interpolate": "monotone"},
   "encoding": {
    "x": {"field": "w", "type": "quantitative", "scale": {"domain": [400, 800], "nice": false, "zero": false},
          "axis": {"orient": "bottom", "values": [500, 600, 700], "tickSize": -5, "labels": false, "title": null}},
    "y": {"field": "a", "type": "quantitative", "scale": {"domain": [-0.0875, 0.8625], "nice": false, "zero": false}, "axis": null},
    "detail": {"field": "s"}
   }},
  {"data": {"values": [{}]},
   "mark": {"type": "text", "align": "left", "baseline": "alphabetic", "fontSize": 15, "font": "DejaVu Sans", "color": "#333"},
   "encoding": {
    "x": {"datum": 413, "type": "quantitative", "axis": {"orient": "top", "values": [500, 600, 700], "tickSize": -5, "labels": false, "title": null}},
    "y": {"datum": 0.7125, "type": "quantitative", "axis": null},
    "text": {"value": "C\u00a0 RGA451 IN BUFFER"}
   }}
 ],
 "resolve": {"axis": {"x": "independent"}}
},
{
 "width": 447, "height": 150,
 "layer": [
  {"data": {"name": "D"},
   "transform": [{"filter": "datum.s < 9"}],
   "mark": {"type": "line", "color": "#3c3c3c", "strokeWidth": 1.4, "interpolate": "linear"},
   "encoding": {
    "x": {"field": "w", "type": "quantitative", "scale": {"domain": [400, 800], "nice": false, "zero": false},
          "axis": {"orient": "bottom", "values": [400, 500, 600, 700, 800], "tickSize": -5, "labels": true, "labelFlush": false, "labelFontSize": 16, "labelPadding": 14, "title": "WAVELENGTH (nm)", "titleFontSize": 17, "titlePadding": 19, "titleX": 258}},
    "y": {"field": "a", "type": "quantitative", "scale": {"domain": [-0.075, 0.8625], "nice": false, "zero": false}, "axis": null},
    "detail": {"field": "s"}
   }},
  {"data": {"name": "D"},
   "transform": [{"filter": "datum.s == 9"}],
   "mark": {"type": "line", "color": "#3c3c3c", "strokeWidth": 1.1, "strokeDash": [6, 4], "interpolate": "linear"},
   "encoding": {
    "x": {"field": "w", "type": "quantitative", "axis": null},
    "y": {"field": "a", "type": "quantitative", "axis": null}
   }},
  {"data": {"values": [{}]},
   "mark": {"type": "text", "align": "left", "baseline": "alphabetic", "fontSize": 15, "font": "DejaVu Sans", "color": "#333"},
   "encoding": {
    "x": {"datum": 413, "type": "quantitative", "axis": {"orient": "top", "values": [500, 600, 700], "tickSize": -5, "labels": false, "title": null}},
    "y": {"datum": 0.7125, "type": "quantitative", "axis": null},
    "text": {"value": "D\u00a0 RGA451 IN CELLS"}
   }}
 ],
 "resolve": {"axis": {"x": "independent"}}
}
]
}
